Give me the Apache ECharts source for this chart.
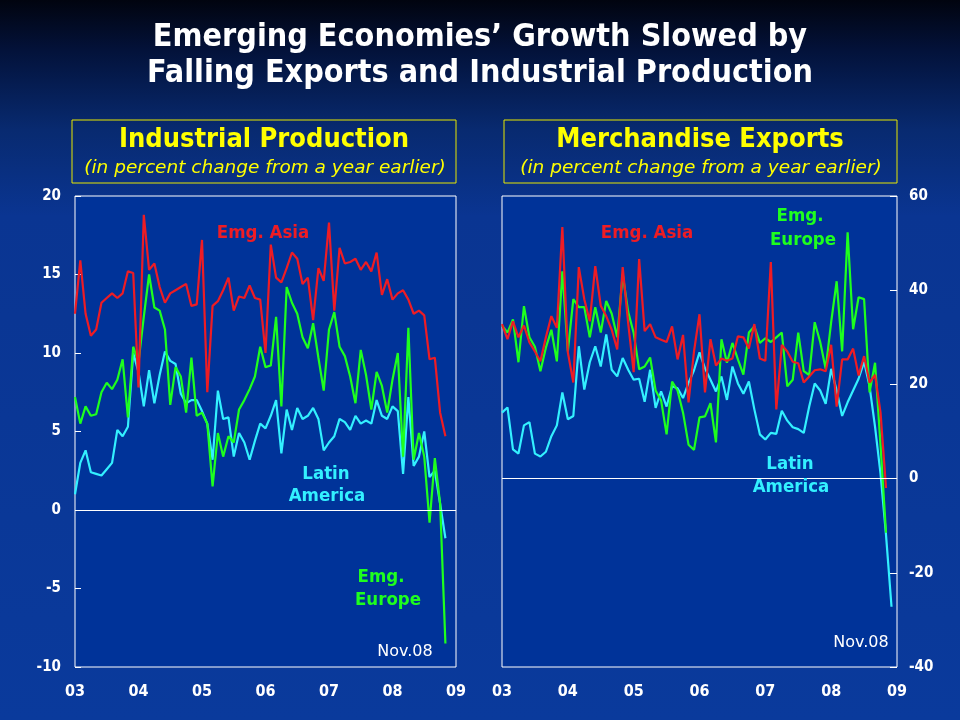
<!DOCTYPE html>
<html>
<head>
<meta charset="utf-8">
<script src="https://cdn.jsdelivr.net/npm/echarts@6/dist/echarts.min.js"></script>
<style>
  html, body { margin: 0; padding: 0; }
  #chart { width: 960px; height: 720px; }
</style>
</head>
<body>
<div id="chart"></div>
<script>
// monthly, Jan 2003 .. Nov 2008 (Latin America exports run to Dec 2008)
var yearLabels = ['03', '04', '05', '06', '07', '08', '09'];

var ipAsia = [12.5, 15.9, 12.5, 11.1, 11.5, 13.2, 13.5, 13.8, 13.5, 13.8, 15.2, 15.1,
    7.8, 18.8, 15.3, 15.7, 14.2, 13.2, 13.8, 14.0, 14.2, 14.4, 13.0, 13.1,
    17.2, 7.5, 13.0, 13.3, 14.0, 14.8, 12.7, 13.6, 13.5, 14.3, 13.5, 13.4,
    10.0, 16.9, 14.8, 14.5, 15.4, 16.4, 16.0, 14.4, 14.8, 12.1, 15.4, 14.6,
    18.3, 12.7, 16.7, 15.7, 15.8, 16.0, 15.3, 15.8, 15.2, 16.4, 13.7, 14.7,
    13.4, 13.8, 14.0, 13.4, 12.5, 12.7, 12.4, 9.6, 9.7, 6.2, 4.7];
var ipEurope = [7.2, 5.5, 6.6, 6.0, 6.1, 7.5, 8.1, 7.7, 8.3, 9.6, 5.9, 10.4,
    9.4, 12.3, 15.0, 12.9, 12.7, 11.5, 6.7, 9.1, 8.5, 6.2, 9.7, 6.0,
    6.2, 5.5, 1.5, 4.9, 3.4, 4.7, 4.3, 6.4, 7.0, 7.7, 8.5, 10.4,
    9.1, 9.2, 12.3, 6.6, 14.2, 13.2, 12.5, 11.0, 10.3, 11.9, 9.7, 7.6,
    11.5, 12.6, 10.4, 9.8, 8.5, 6.8, 10.2, 8.6, 6.4, 8.8, 7.9, 6.2,
    8.3, 10.0, 3.4, 11.6, 3.2, 4.9, 3.4, -0.8, 3.3, 0.4, -8.5];
var ipLatin = [1.0, 3.0, 3.8, 2.4, 2.3, 2.2, 2.6, 3.0, 5.1, 4.7, 5.3, 10.0,
    8.8, 6.6, 8.9, 6.8, 8.6, 10.1, 9.5, 9.3, 7.4, 6.8, 7.0, 7.0,
    6.3, 5.5, 3.2, 7.6, 5.8, 5.9, 3.4, 4.9, 4.3, 3.2, 4.4, 5.5,
    5.2, 6.0, 7.0, 3.6, 6.4, 5.1, 6.5, 5.8, 6.0, 6.5, 5.8, 3.8,
    4.3, 4.7, 5.8, 5.6, 5.1, 6.0, 5.5, 5.7, 5.5, 7.0, 6.0, 5.8,
    6.6, 6.3, 2.3, 7.2, 2.8, 3.4, 5.0, 2.1, 2.5, 0.4, -1.8];

var exAsia = [32.8, 29.6, 33.4, 30.0, 32.5, 28.9, 27.0, 24.9, 30.0, 34.5, 32.0, 53.4,
    26.8, 20.4, 44.9, 38.1, 33.4, 45.1, 36.7, 34.5, 31.6, 27.4, 44.9, 33.0,
    22.6, 46.6, 31.3, 32.8, 30.0, 29.5, 29.0, 32.3, 25.3, 30.5, 16.2, 27.0,
    34.9, 18.3, 29.6, 24.0, 25.5, 25.0, 25.5, 30.2, 30.0, 27.6, 32.8, 25.5,
    25.0, 46.0, 14.7, 28.4, 27.0, 24.8, 24.5, 20.4, 21.7, 23.0, 23.2, 22.8,
    28.4, 15.3, 25.3, 25.3, 27.6, 21.9, 26.0, 20.4, 22.0, 14.0, -2.0];
var exEurope = [32.5, 31.0, 33.8, 24.7, 36.6, 30.0, 28.0, 22.8, 27.8, 31.6, 24.9, 44.0,
    27.0, 38.1, 36.4, 36.4, 30.0, 36.4, 31.0, 37.7, 35.0, 30.0, 43.4, 35.4,
    30.9, 23.2, 23.8, 25.7, 18.7, 16.6, 9.4, 20.6, 18.7, 14.0, 7.2, 6.1,
    13.0, 13.2, 16.0, 7.7, 29.6, 24.6, 28.8, 25.3, 22.1, 31.0, 32.3, 28.8,
    29.8, 29.0, 30.0, 31.0, 19.6, 21.0, 31.0, 22.8, 22.0, 33.2, 29.0, 23.3,
    33.2, 41.9, 27.0, 52.3, 31.7, 38.5, 38.1, 18.3, 24.6, 7.0, -11.5];
var exLatin = [14.0, 15.1, 6.2, 5.3, 11.3, 12.0, 5.3, 4.7, 5.7, 9.0, 11.3, 18.3,
    12.6, 13.3, 28.1, 18.9, 24.7, 28.1, 23.8, 30.6, 23.1, 21.7, 25.6, 23.1,
    21.0, 21.2, 16.3, 23.1, 15.0, 18.5, 15.3, 19.6, 19.2, 17.1, 20.3, 23.0,
    26.8, 23.4, 21.0, 18.5, 21.7, 16.7, 23.8, 20.2, 18.0, 20.6, 14.7, 9.4,
    8.3, 9.7, 9.5, 14.4, 12.3, 10.9, 10.5, 9.7, 15.3, 20.2, 18.7, 15.9,
    23.3, 18.7, 13.3, 16.2, 18.7, 21.2, 24.8, 19.6, 11.0, 1.0, -12.0, -27.2];

var RED = '#ee1c24', GREEN = '#1eff1e', CYAN = '#33f0ff', YEL = '#ffff00';
var FONT = '"DejaVu Sans Condensed", "DejaVu Sans", sans-serif';
var FONT_WIDE = '"DejaVu Sans", sans-serif';

function pts(arr) {
    return arr.map(function (v, i) { return [i, v]; });
}

function xAx(gi) {
    return {
        type: 'value', gridIndex: gi, min: 0, max: 72, interval: 12,
        axisLine: {show: false, onZero: false}, axisTick: {show: false}, splitLine: {show: false},
        axisLabel: {
            color: '#fff', fontWeight: 'bold', fontSize: 16, fontFamily: FONT, margin: 17,
            formatter: function (v) { return yearLabels[v / 12]; }
        }
    };
}

function line(name, arr, color, xi, yi, zero) {
    var s = {
        name: name, type: 'line', xAxisIndex: xi, yAxisIndex: yi,
        data: pts(arr), showSymbol: false, symbol: 'none',
        lineStyle: {color: color, width: 2.2}, itemStyle: {color: color},
        silent: true, animation: false
    };
    if (zero) {
        s.markLine = {
            silent: true, symbol: 'none', label: {show: false},
            lineStyle: {color: '#fff', width: 1, type: 'solid'},
            data: [{yAxis: 0}]
        };
    }
    return s;
}

function txt(t, x, y, color, size, weight, family) {
    return {
        type: 'text', z: 100,
        style: {
            text: t, x: x, y: y, fill: color, textAlign: 'center', textVerticalAlign: 'middle',
            font: (weight || 'bold') + ' ' + size + 'px ' + (family || FONT)
        }
    };
}

var chart = echarts.init(document.getElementById('chart'));
chart.setOption({
    backgroundColor: {
        type: 'linear', x: 0, y: 0, x2: 0, y2: 1,
        colorStops: [
            {offset: 0, color: '#01040f'},
            {offset: 0.07, color: '#03123a'},
            {offset: 0.18, color: '#082a70'},
            {offset: 0.3, color: '#0a3592'},
            {offset: 1, color: '#0a3a9c'}
        ]
    },
    title: {
        text: 'Emerging Economies’ Growth Slowed by\nFalling Exports and Industrial Production',
        left: 'center', top: 15,
        textStyle: {color: '#fff', fontSize: 32, fontWeight: 'bold', fontFamily: FONT, lineHeight: 36}
    },
    grid: [
        {left: 75, right: 504, top: 196, bottom: 53, show: true,
            borderColor: '#fff', borderWidth: 1, backgroundColor: '#003399'},
        {left: 502, right: 63, top: 196, bottom: 53, show: true,
            borderColor: '#fff', borderWidth: 1, backgroundColor: '#003399'}
    ],
    xAxis: [xAx(0), xAx(1)],
    yAxis: [
        {type: 'value', gridIndex: 0, min: -10, max: 20, interval: 5,
            axisLine: {show: false, onZero: false}, splitLine: {show: false},
            axisTick: {show: true, inside: true, length: 6, lineStyle: {color: '#fff', width: 1}},
            axisLabel: {color: '#fff', fontWeight: 'bold', fontSize: 15, fontFamily: FONT, margin: 14}},
        {type: 'value', gridIndex: 1, position: 'right', min: -40, max: 60, interval: 20,
            axisLine: {show: false, onZero: false}, splitLine: {show: false},
            axisTick: {show: true, inside: true, length: 7, lineStyle: {color: '#fff', width: 1}},
            axisLabel: {color: '#fff', fontWeight: 'bold', fontSize: 15, fontFamily: FONT, margin: 12}}
    ],
    series: [
        line('Latin America', ipLatin, CYAN, 0, 0, true),
        line('Emg. Europe', ipEurope, GREEN, 0, 0),
        line('Emg. Asia', ipAsia, RED, 0, 0),
        line('Latin America', exLatin, CYAN, 1, 1, true),
        line('Emg. Europe', exEurope, GREEN, 1, 1),
        line('Emg. Asia', exAsia, RED, 1, 1)
    ],
    graphic: [
        {type: 'rect', shape: {x: 72, y: 120, width: 384, height: 63},
            style: {fill: 'rgba(0,0,0,0)', stroke: '#e8e800', lineWidth: 1}},
        {type: 'rect', shape: {x: 504, y: 120, width: 393, height: 63},
            style: {fill: 'rgba(0,0,0,0)', stroke: '#e8e800', lineWidth: 1}},
        txt('Industrial Production', 264, 140, YEL, 27),
        txt('(in percent change from a year earlier)', 265, 168, YEL, 18.5, 'italic', FONT_WIDE),
        txt('Merchandise Exports', 700, 140, YEL, 27),
        txt('(in percent change from a year earlier)', 701, 168, YEL, 18.5, 'italic', FONT_WIDE),

        txt('Emg. Asia', 263, 233, RED, 18.5),
        txt('Latin', 326, 474, CYAN, 18.5),
        txt('America', 327, 496, CYAN, 18.5),
        txt('Emg.', 381, 577, GREEN, 18.5),
        txt('Europe', 388, 600, GREEN, 18.5),
        txt('Nov.08', 405, 652, '#fff', 16, 'normal', FONT_WIDE),

        txt('Emg. Asia', 647, 233, RED, 18.5),
        txt('Emg.', 800, 216, GREEN, 18.5),
        txt('Europe', 803, 240, GREEN, 18.5),
        txt('Latin', 790, 464, CYAN, 18.5),
        txt('America', 791, 487, CYAN, 18.5),
        txt('Nov.08', 861, 643, '#fff', 16, 'normal', FONT_WIDE)
    ]
});
</script>
</body>
</html>
